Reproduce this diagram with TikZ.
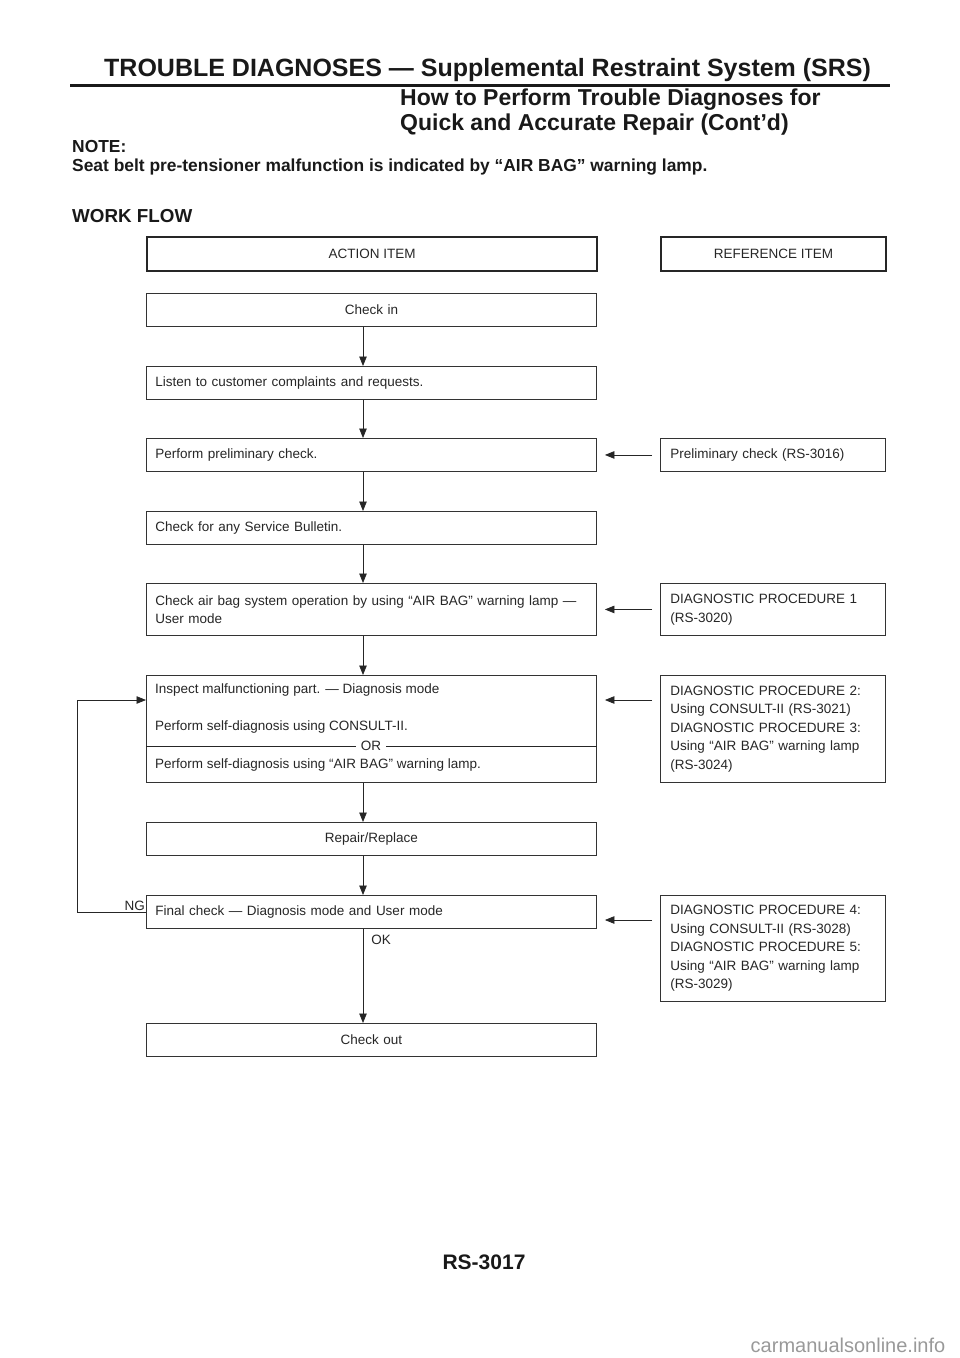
\documentclass[tikz,border=0pt]{standalone}
\usepackage{fontspec}
\setmainfont{Liberation Sans}
\usetikzlibrary{arrows.meta,calc}

\begin{document}
\begin{tikzpicture}[x=1pt, y=-1pt, font=\fontsize{13.5}{18.5}\selectfont]
    % Stili
    \tikzstyle{actionbox}=[draw=black!80, line width=0.9pt, anchor=north west, inner xsep=9pt, inner ysep=0pt, text width=432pt, minimum height=33pt, align=left, text=black!85]
    \tikzstyle{actioncenter}=[actionbox, align=center]
    \tikzstyle{refbox}=[draw=black!80, line width=0.9pt, anchor=north west, inner xsep=10pt, inner ysep=0pt, text width=205pt, minimum height=33pt, align=left, text=black!85]
    \tikzstyle{headbox}=[draw=black!85, line width=2.2pt, anchor=north west, inner sep=0pt, minimum height=34pt, align=center, text=black!85]
    \tikzstyle{arrow}=[-{Triangle[length=9.5pt,width=7.5pt]}, line width=0.8pt, black!85]
    \tikzstyle{line}=[line width=0.8pt, black!85]
    \useasboundingbox (0,0) rectangle (960,1358);
    % Intestazione
    \node[anchor=west, inner sep=0pt, font=\bfseries\fontsize{25}{25}\selectfont, text=black!90] (title) at (104,70) {TROUBLE DIAGNOSES — Supplemental Restraint System (SRS)};
    \draw[line width=3pt, black!90] (70,85.5) -- (890,85.5);
    \node[anchor=north west, inner sep=0pt, align=left, font=\bfseries\fontsize{23}{25}\selectfont, text=black!90] (subtitle) at (400,89) {How to Perform Trouble Diagnoses for\\Quick and Accurate Repair (Cont’d)};
    \node[anchor=north west, inner sep=0pt, align=left, font=\bfseries\fontsize{17.4}{19}\selectfont, text=black!90] (note) at (72,140) {NOTE:\\Seat belt pre-tensioner malfunction is indicated by “AIR BAG” warning lamp.};
    \node[anchor=west, inner sep=0pt, font=\bfseries\fontsize{18.8}{19}\selectfont, text=black!90] (workflow) at (72,216) {WORK FLOW};
    % Colonne
    \node[headbox, minimum width=450pt] (action) at (146,236) {ACTION ITEM};
    \node[headbox, minimum width=225pt] (reference) at (660,236) {REFERENCE ITEM};
    % Passi
    \coordinate (spine) at (363,0);
    \coordinate (ngturn) at (77,0);
    \node[actioncenter] (checkin) at (146,293) {Check in};
    \node[actionbox] (listen) at (146,366) {Listen to customer complaints and requests.};
    \node[actionbox] (prelim) at (146,438) {Perform preliminary check.};
    \node[actionbox] (bulletin) at (146,511) {Check for any Service Bulletin.};
    \node[actionbox, minimum height=52pt] (airbag) at (146,583) {Check air bag system operation by using “AIR BAG” warning lamp —\\User mode};
    \node[actionbox, minimum height=107pt] (inspect) at (146,675) {};
    \node[anchor=west, inner sep=0pt, text=black!85] (insptext) at (155,690) {Inspect malfunctioning part. — Diagnosis mode};
    \node[anchor=west, inner sep=0pt, text=black!85] (consult) at (155,727) {Perform self-diagnosis using CONSULT-II.};
    \draw[line] (inspect.west |- 0,746) -- (inspect.east |- 0,746);
    \node[fill=white, inner xsep=5pt, inner ysep=1pt, text=black!85] (or) at (371,746) {OR};
    \node[anchor=west, inner sep=0pt, text=black!85] (lamp) at (155,765) {Perform self-diagnosis using “AIR BAG” warning lamp.};
    \node[actioncenter] (repair) at (146,822) {Repair/Replace};
    \node[actionbox] (final) at (146,895) {Final check — Diagnosis mode and User mode};
    \node[actioncenter] (checkout) at (146,1023) {Check out};
    % Riferimenti
    \node[refbox] (prelref) at (660,438) {Preliminary check (RS-3016)};
    \node[refbox, minimum height=52pt] (diag1) at (660,583) {DIAGNOSTIC PROCEDURE 1\\(RS-3020)};
    \node[refbox, minimum height=107pt] (diag23) at (660,675) {DIAGNOSTIC PROCEDURE 2:\\Using CONSULT-II (RS-3021)\\DIAGNOSTIC PROCEDURE 3:\\Using “AIR BAG” warning lamp\\(RS-3024)};
    \node[refbox, minimum height=106pt] (diag45) at (660,895) {DIAGNOSTIC PROCEDURE 4:\\Using CONSULT-II (RS-3028)\\DIAGNOSTIC PROCEDURE 5:\\Using “AIR BAG” warning lamp\\(RS-3029)};
    % Frecce verticali
    \draw[arrow] (checkin.south -| spine) -- (listen.north -| spine);
    \draw[arrow] (listen.south -| spine) -- (prelim.north -| spine);
    \draw[arrow] (prelim.south -| spine) -- (bulletin.north -| spine);
    \draw[arrow] (bulletin.south -| spine) -- (airbag.north -| spine);
    \draw[arrow] (airbag.south -| spine) -- (inspect.north -| spine);
    \draw[arrow] (inspect.south -| spine) -- (repair.north -| spine);
    \draw[arrow] (repair.south -| spine) -- (final.north -| spine);
    \draw[arrow] (final.south -| spine) -- node[pos=0.12, right, xshift=6pt, inner sep=2pt, text=black!85] (ok) {OK} (checkout.north -| spine);
    % Frecce orizzontali
    \draw[arrow] ($(prelref.west)+(-8,0)$) -- ($(prelim.east)+(8,0)$);
    \draw[arrow] ($(diag1.west)+(-8,0)$) -- ($(airbag.east)+(8,0)$);
    \draw[arrow] ($(diag23.north west)+(-8,25)$) -- ($(inspect.north east)+(8,25)$);
    \draw[arrow] ($(diag45.north west)+(-8,25)$) -- ($(final.north east)+(8,25)$);
    % Ritorno NG
    \draw[arrow] (final.west) -- (final.west -| ngturn) |- ($(inspect.north west)+(0,25)$);
    \node[anchor=south east, inner sep=1pt, text=black!85] (ng) at (final.west) {NG};
    % Piede di pagina
    \node[font=\bfseries\fontsize{21}{21}\selectfont, text=black!90] (page) at (484,1262) {RS-3017};
    \node[font=\fontsize{20}{20}\selectfont, text=black!40] (site) at (848,1345) {carmanualsonline.info};
\end{tikzpicture}
\end{document}
